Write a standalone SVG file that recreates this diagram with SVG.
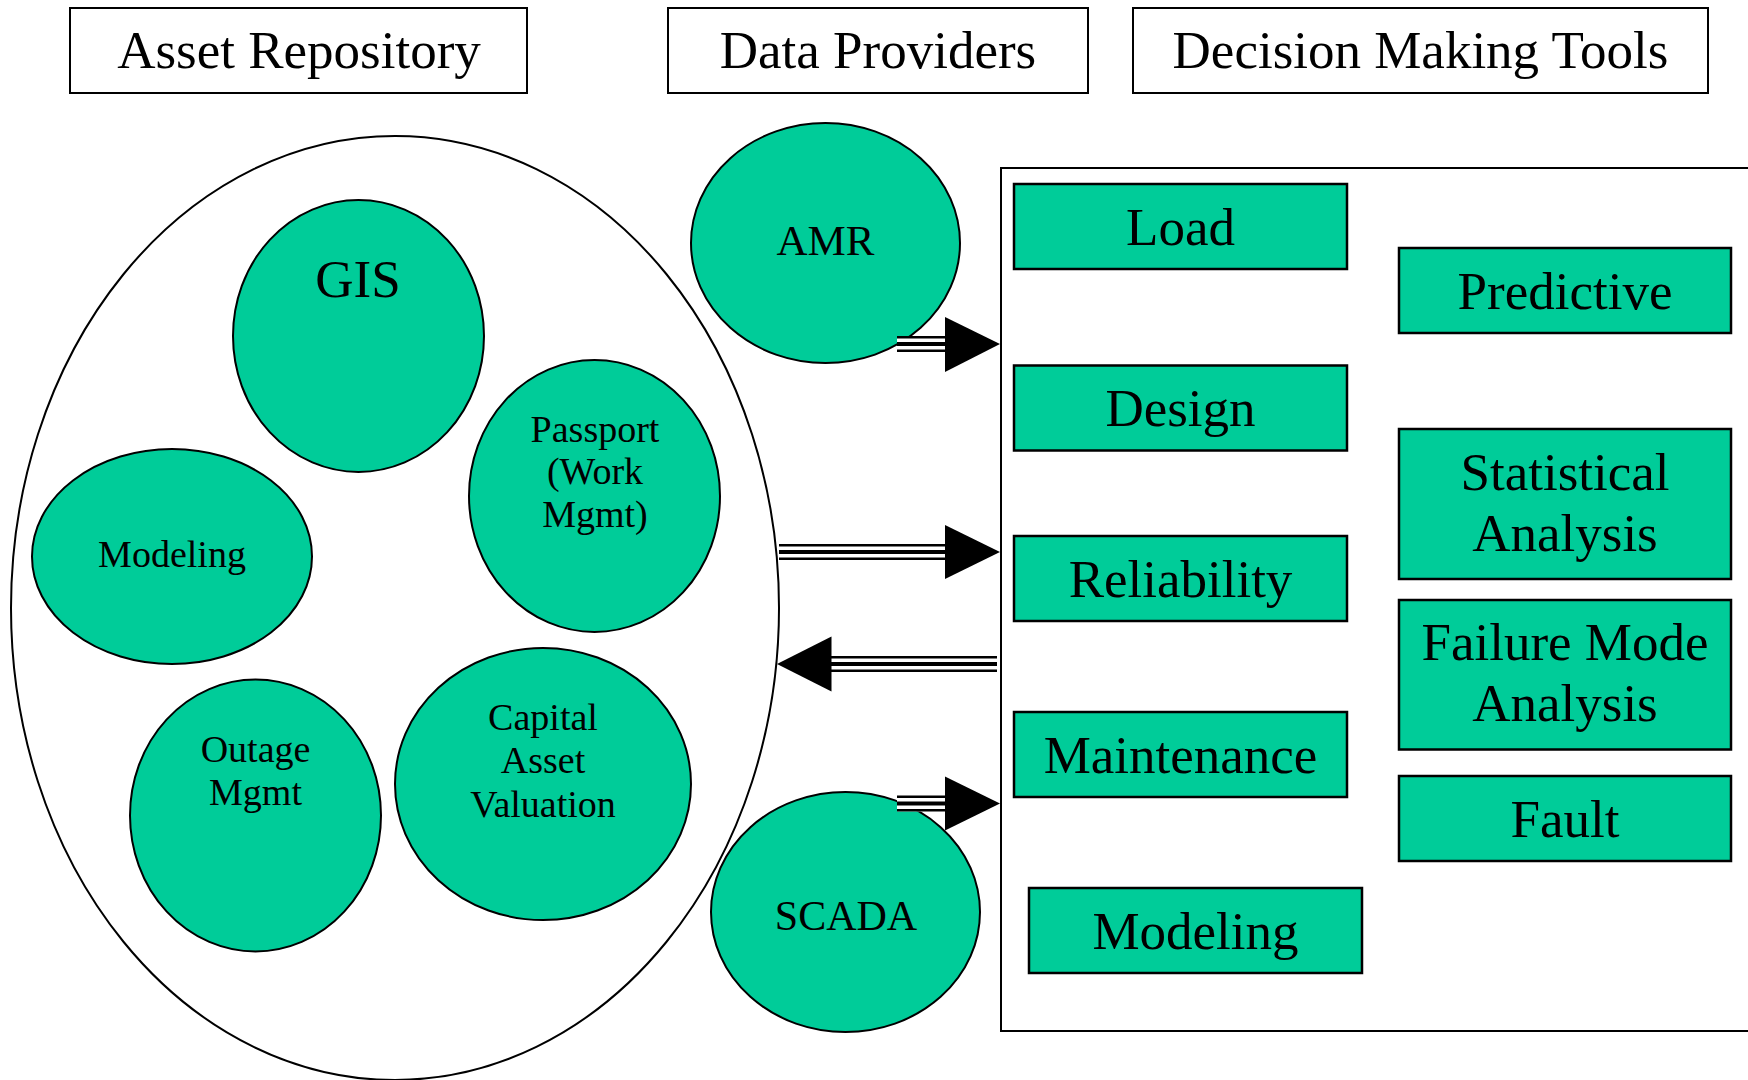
<svg xmlns="http://www.w3.org/2000/svg" width="1748" height="1080" viewBox="0 0 1748 1080">
<style>
  text { font-family: "Liberation Serif", "Times New Roman", serif; fill: #000; text-anchor: middle; }
  .hdr { fill: #fff; stroke: #000; stroke-width: 2; }
  .hdrt { font-size: 53px; }
  .oval { fill: #00CC99; stroke: #000; stroke-width: 2; }
  .box { fill: #00CC99; stroke: #000; stroke-width: 2.5; }
  .bt { font-size: 53px; }
  .et { font-size: 38px; }
  .band { fill: #fff; }
  .ln { stroke: #000; stroke-width: 2.6; }
  .lnm { stroke: #000; stroke-width: 4.2; }
  .head { fill: #000; }
</style>

<g id="hdr-asset">
  <rect class="hdr" x="70" y="8" width="457" height="85"/>
  <text class="hdrt" x="299" y="68">Asset Repository</text>
</g>
<g id="hdr-data">
  <rect class="hdr" x="668" y="8" width="420" height="85"/>
  <text class="hdrt" x="878" y="68">Data Providers</text>
</g>
<g id="hdr-decision">
  <rect class="hdr" x="1133" y="8" width="575" height="85"/>
  <text class="hdrt" x="1420.5" y="68">Decision Making Tools</text>
</g>

<g id="asset-repository">
  <ellipse cx="395" cy="608" rx="384" ry="472" fill="#fff" stroke="#000" stroke-width="2"/>
</g>

<g id="gis">
  <ellipse class="oval" cx="358.5" cy="336" rx="125.5" ry="136"/>
  <text x="358" y="297" style="font-size:53px">GIS</text>
</g>
<g id="passport">
  <ellipse class="oval" cx="594.5" cy="496" rx="125.5" ry="136"/>
  <text class="et" x="595" y="442">Passport</text>
  <text class="et" x="595" y="484">(Work</text>
  <text class="et" x="595" y="527">Mgmt)</text>
</g>
<g id="modeling-oval">
  <ellipse class="oval" cx="172" cy="556.5" rx="140" ry="107.5"/>
  <text class="et" x="172" y="567">Modeling</text>
</g>
<g id="outage">
  <ellipse class="oval" cx="255.5" cy="815.5" rx="125.5" ry="136"/>
  <text class="et" x="255.5" y="762">Outage</text>
  <text class="et" x="255.5" y="805">Mgmt</text>
</g>
<g id="capital">
  <ellipse class="oval" cx="543" cy="784" rx="148" ry="136"/>
  <text class="et" x="543" y="730">Capital</text>
  <text class="et" x="543" y="773">Asset</text>
  <text class="et" x="543" y="817">Valuation</text>
</g>

<g id="amr">
  <ellipse class="oval" cx="825.5" cy="243" rx="134.5" ry="120"/>
  <text x="825.5" y="255" style="font-size:43px">AMR</text>
</g>
<g id="scada">
  <ellipse class="oval" cx="845.5" cy="912" rx="134.5" ry="120"/>
  <text x="846" y="930" style="font-size:42px">SCADA</text>
</g>

<g id="decision-tools">
  <rect x="1001" y="168" width="800" height="863" fill="none" stroke="#000" stroke-width="2"/>
</g>

<g id="load">
  <rect class="box" x="1014" y="184" width="333" height="85"/>
  <text class="bt" x="1180.5" y="245">Load</text>
</g>
<g id="design">
  <rect class="box" x="1014" y="365.5" width="333" height="85"/>
  <text class="bt" x="1180.5" y="426">Design</text>
</g>
<g id="reliability">
  <rect class="box" x="1014" y="536" width="333" height="85"/>
  <text class="bt" x="1180.5" y="597">Reliability</text>
</g>
<g id="maintenance">
  <rect class="box" x="1014" y="712" width="333" height="85"/>
  <text class="bt" x="1180.5" y="773">Maintenance</text>
</g>
<g id="modeling-box">
  <rect class="box" x="1029" y="888" width="333" height="85"/>
  <text class="bt" x="1195.5" y="949">Modeling</text>
</g>
<g id="predictive">
  <rect class="box" x="1399" y="248" width="332" height="85"/>
  <text class="bt" x="1565" y="309">Predictive</text>
</g>
<g id="statistical">
  <rect class="box" x="1399" y="429" width="332" height="150"/>
  <text class="bt" x="1565" y="490">Statistical</text>
  <text class="bt" x="1565" y="551">Analysis</text>
</g>
<g id="failure-mode">
  <rect class="box" x="1399" y="600" width="332" height="149.5"/>
  <text class="bt" x="1565" y="660">Failure Mode</text>
  <text class="bt" x="1565" y="721">Analysis</text>
</g>
<g id="fault">
  <rect class="box" x="1399" y="776" width="332" height="85"/>
  <text class="bt" x="1565" y="837">Fault</text>
</g>

<g id="connectors">
  <!-- AMR to tools -->
  <rect class="band" x="897" y="336" width="49" height="16"/>
  <line class="ln" x1="897" y1="337.3" x2="946" y2="337.3"/>
  <line class="lnm" x1="897" y1="344" x2="946" y2="344"/>
  <line class="ln" x1="897" y1="350.7" x2="946" y2="350.7"/>
  <polygon class="head" points="945,317 1000,344 945,372"/>

  <!-- Repository to tools -->
  <rect class="band" x="779" y="544" width="167" height="16"/>
  <line class="ln" x1="779" y1="545.3" x2="946" y2="545.3"/>
  <line class="lnm" x1="779" y1="552" x2="946" y2="552"/>
  <line class="ln" x1="779" y1="558.7" x2="946" y2="558.7"/>
  <polygon class="head" points="945,525 1000,552 945,579"/>

  <!-- Tools to repository -->
  <rect class="band" x="830" y="656" width="167" height="16"/>
  <line class="ln" x1="830" y1="657.3" x2="997" y2="657.3"/>
  <line class="lnm" x1="830" y1="664" x2="997" y2="664"/>
  <line class="ln" x1="830" y1="670.7" x2="997" y2="670.7"/>
  <polygon class="head" points="831.5,636.5 777,664 831.5,691.5"/>

  <!-- SCADA to tools -->
  <rect class="band" x="897" y="795.5" width="49" height="16"/>
  <line class="ln" x1="897" y1="796.8" x2="946" y2="796.8"/>
  <line class="lnm" x1="897" y1="803.5" x2="946" y2="803.5"/>
  <line class="ln" x1="897" y1="810.2" x2="946" y2="810.2"/>
  <polygon class="head" points="945,776.5 1000,803.5 945,830.5"/>
</g>
</svg>
